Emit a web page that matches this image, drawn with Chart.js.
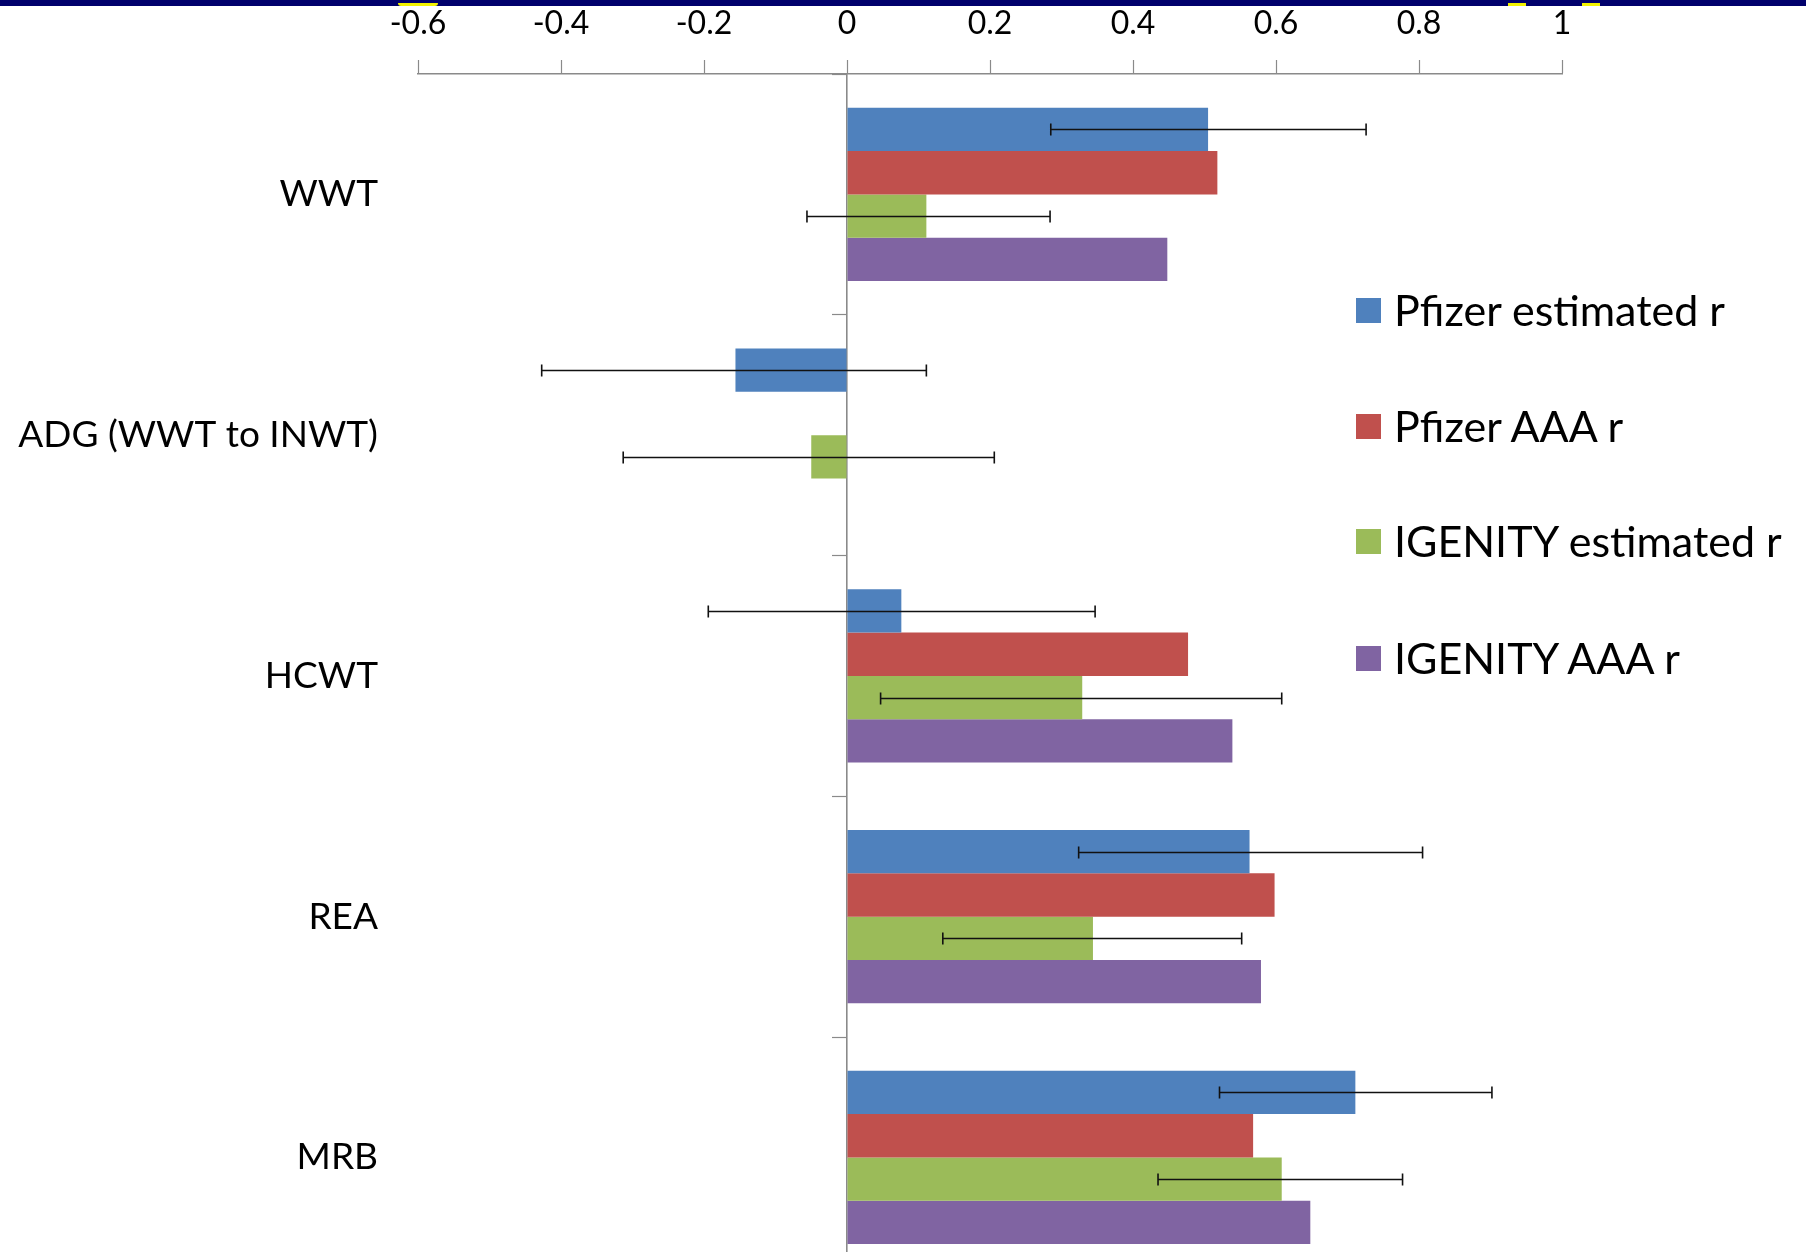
<!DOCTYPE html>
<html>
<head>
<meta charset="utf-8">
<script src="https://cdn.jsdelivr.net/npm/chart.js@4.4.0/dist/chart.umd.min.js"></script>
<style>
html, body { margin: 0; padding: 0; background: #fff; overflow: hidden; }
#wrap { position: relative; width: 1806px; height: 1252px; overflow: hidden; }
#band { position: absolute; left: 0; top: 0; width: 1806px; height: 6px; background: #00006c; z-index: 3; overflow: hidden; }
#band .y { position: absolute; bottom: 0; height: 3px; background: #f2f200; border-radius: 0 0 12px 12px; }
#chart { position: absolute; left: 0; top: 0; }
#legend { position: absolute; left: 1356px; top: 0; font-family: Lato, "Open Sans", sans-serif; font-size: 43px; color: #000; }
#legend .item { position: absolute; left: 0; white-space: nowrap; height: 50px; line-height: 50px; }
#legend .sw { position: absolute; left: 0; top: 13px; width: 25px; height: 25px; }
#legend .txt { position: absolute; left: 38px; top: 0; }
</style>
</head>
<body>
<div id="wrap">
	<div id="band">
		<div class="y" style="left:398px;width:40px"></div>
		<div class="y" style="left:1508px;width:18px;border-radius:0"></div>
		<div class="y" style="left:1582px;width:18px;border-radius:0"></div>
	</div>
	<canvas id="chart" width="1806" height="1332"></canvas>
	<div id="legend"></div>
</div>
<script>
// categorias e valores (correlacoes r)
const categorias = ["WWT", "ADG (WWT to INWT)", "HCWT", "REA", "MRB"]

const pfizerEst = [0.505, -0.156, 0.076, 0.563, 0.711]
const pfizerEstLow = [0.285, -0.427, -0.194, 0.324, 0.521]
const pfizerEstHigh = [0.726, 0.111, 0.347, 0.805, 0.902]

const pfizerAAA = [0.518, null, 0.477, 0.598, 0.568]

const igenityEst = [0.111, -0.05, 0.329, 0.344, 0.608]
const igenityEstLow = [-0.056, -0.313, 0.047, 0.134, 0.435]
const igenityEstHigh = [0.284, 0.206, 0.608, 0.552, 0.777]

const igenityAAA = [0.448, null, 0.539, 0.579, 0.648]

const xMin = -0.6
const xMax = 1
const xStep = 0.2

const FONTE = "Lato, 'Open Sans', sans-serif"
const CINZA = "#8a8a8a"

var dataSet = [
	{ label: "Pfizer estimated r", data: pfizerEst, backgroundColor: "#4f81bd", errLow: pfizerEstLow, errHigh: pfizerEstHigh },
	{ label: "Pfizer AAA r", data: pfizerAAA, backgroundColor: "#c0504d" },
	{ label: "IGENITY estimated r", data: igenityEst, backgroundColor: "#9bbb59", errLow: igenityEstLow, errHigh: igenityEstHigh },
	{ label: "IGENITY AAA r", data: igenityAAA, backgroundColor: "#8064a2" },
]

// barras de erro desenhadas com a escala x do proprio grafico
const errorBars = {
	id: "errorBars",
	afterDatasetsDraw(chart) {
		const ctx = chart.ctx
		const xs = chart.scales.x
		chart.data.datasets.forEach((ds, i) => {
			if (!ds.errLow) return
			const meta = chart.getDatasetMeta(i)
			meta.data.forEach((bar, j) => {
				if (ds.errLow[j] == null) return
				const x1 = xs.getPixelForValue(ds.errLow[j])
				const x2 = xs.getPixelForValue(ds.errHigh[j])
				const y = Math.round(bar.y) + 0.5
				ctx.save()
				ctx.strokeStyle = "#111"
				ctx.lineWidth = 1.6
				ctx.beginPath()
				ctx.moveTo(x1, y)
				ctx.lineTo(x2, y)
				ctx.moveTo(x1, y - 6)
				ctx.lineTo(x1, y + 6)
				ctx.moveTo(x2, y - 6)
				ctx.lineTo(x2, y + 6)
				ctx.stroke()
				ctx.restore()
			})
		})
	},
}

var grafico = new Chart(document.getElementById("chart"), {
	type: "bar",
	data: {
		labels: categorias,
		datasets: dataSet.map((d) => ({
			label: d.label,
			data: d.data,
			backgroundColor: d.backgroundColor,
			borderWidth: 0,
			errLow: d.errLow,
			errHigh: d.errHigh,
			categoryPercentage: 0.72,
			barPercentage: 1,
		})),
	},
	options: {
		indexAxis: "y",
		responsive: false,
		animation: false,
		devicePixelRatio: 1,
		layout: { padding: { top: 0, left: 0, right: 244, bottom: 11 } },
		plugins: { legend: { display: false }, tooltip: { enabled: false } },
		scales: {
			x: {
				type: "linear",
				position: "top",
				min: xMin,
				max: xMax,
				ticks: {
					stepSize: xStep,
					padding: 17,
					color: "#000",
					font: { family: FONTE, size: 32 },
					callback: (v) => Number(v.toFixed(1)).toString(),
				},
				grid: {
					drawOnChartArea: false,
					drawTicks: true,
					tickLength: 14,
					tickColor: CINZA,
					tickWidth: 1.2,
				},
				border: { display: true, color: CINZA, width: 1.6 },
				afterFit: (s) => { s.height = 74 },
			},
			y: {
				type: "category",
				grid: { display: false },
				border: { display: false },
				ticks: {
					padding: 32,
					color: "#000",
					font: { family: FONTE, size: 37 },
				},
				afterFit: (s) => { s.width = 418 },
			},
			y2: {
				axis: "y",
				type: "category",
				labels: categorias,
				position: { x: 0 },
				offset: true,
				ticks: { display: false },
				grid: {
					drawOnChartArea: false,
					offset: true,
					tickLength: 14,
					color: CINZA,
					tickColor: CINZA,
					tickWidth: 1.2,
				},
				border: { display: true, color: CINZA, width: 1.6 },
			},
		},
	},
	plugins: [errorBars],
})

// legenda
const legendaY = [310, 426, 541, 658]
var legenda = document.getElementById("legend")
dataSet.forEach((d, i) => {
	var item = document.createElement("div")
	item.className = "item"
	item.style.top = legendaY[i] - 25 + "px"
	item.innerHTML = `<span class="sw" style="background:${d.backgroundColor}"></span><span class="txt">${d.label}</span>`
	legenda.appendChild(item)
})
</script>
</body>
</html>
